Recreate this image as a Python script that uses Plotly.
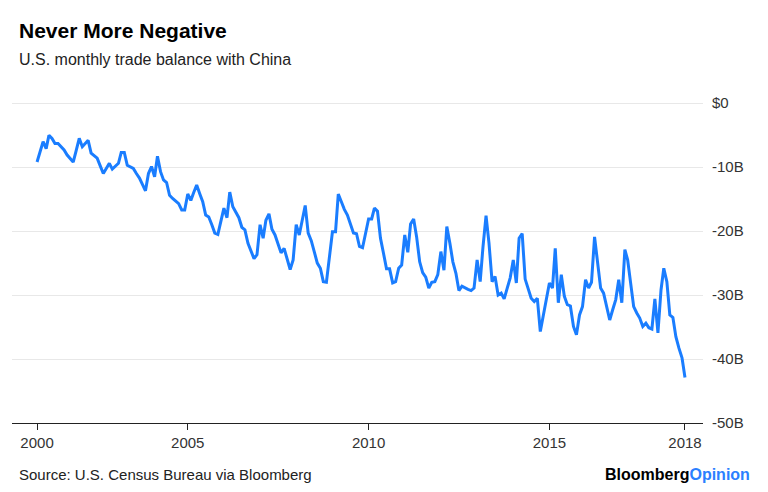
import pandas as pd
import plotly.graph_objects as go

# Monthly U.S. trade balance with China, billions of dollars (Nov 2000 - Oct 2018)
start_month = "2000-11-01"
balance = [
    -9.2, -7.6, -6.0, -7.1, -5.0, -5.5, -6.3, -6.3, -6.8, -7.3, -8.1, -8.6,
    -9.2, -7.4, -5.5, -6.8, -6.3, -5.8, -7.8, -8.2, -8.6, -9.8, -11.0, -10.2,
    -9.4, -10.3, -9.9, -9.4, -7.7, -7.7, -9.7, -10.0, -10.2, -11.0, -11.7, -12.7,
    -13.7, -11.0, -9.9, -11.5, -8.3, -10.7, -12.0, -12.4, -14.4, -14.9, -15.3, -15.7,
    -16.7, -16.7, -14.2, -15.2, -14.0, -12.8, -14.1, -15.4, -17.5, -17.8, -19.0, -20.3,
    -20.5, -18.5, -16.4, -17.9, -13.9, -16.2, -17.0, -17.9, -19.4, -19.8, -21.9, -23.1,
    -24.3, -23.7, -19.0, -21.1, -18.3, -17.3, -19.7, -20.6, -22.0, -23.4, -22.7, -24.4,
    -26.0, -24.5, -19.0, -20.6, -18.3, -16.0, -20.3, -21.5, -23.2, -25.0, -25.8, -27.9,
    -28.0, -24.0, -20.1, -20.1, -14.2, -15.4, -16.6, -17.5, -18.8, -20.3, -20.4, -22.4,
    -22.6, -20.3, -18.1, -18.1, -16.4, -16.9, -21.1, -23.5, -25.9, -25.9, -28.1, -27.9,
    -25.8, -25.3, -20.6, -23.3, -18.9, -18.1, -20.9, -24.8, -26.5, -27.2, -28.9, -28.0,
    -27.9, -26.8, -23.2, -26.1, -19.3, -21.9, -24.8, -26.6, -29.3, -28.6, -28.9, -29.1,
    -29.3, -28.9, -24.5, -27.9, -22.5, -17.6, -21.9, -27.9, -27.1, -30.0, -29.7, -30.6,
    -28.9, -27.3, -24.5, -28.1, -21.1, -20.4, -27.5, -28.9, -30.5, -31.0, -30.5, -35.7,
    -33.3, -30.7, -28.1, -28.9, -22.7, -31.2, -26.8, -30.2, -31.5, -31.7, -34.9, -36.2,
    -33.1, -31.8, -27.6, -28.9, -28.0, -20.9, -24.5, -28.9, -29.7, -31.8, -33.9, -32.3,
    -30.7, -27.6, -31.2, -22.9, -24.5, -28.2, -31.8, -32.8, -33.6, -34.9, -34.4, -35.1,
    -35.3, -30.6, -35.9, -29.2, -25.8, -27.9, -33.1, -33.5, -36.5, -38.3, -39.8, -42.9,
]
dates = pd.date_range(start_month, periods=len(balance), freq="MS")

x_tick_labels = ["2000", "2005", "2010", "2015", "2018"]
x_tick_dates = [dates[0], pd.Timestamp("2005-01-01"), pd.Timestamp("2010-01-01"),
                pd.Timestamp("2015-01-01"), dates[-1]]
y_tick_values = [0, -10, -20, -30, -40, -50]
y_tick_labels = ["$0", "-10B", "-20B", "-30B", "-40B", "-50B"]

FONT = "Liberation Sans, Arial, sans-serif"
LINE_BLUE = "#1a7dff"

# plot area in pixels
L, R, T, B = 12, 703, 100, 423


def px(xp):
    return (xp - L) / (R - L)


def py(yp):
    return (B - yp) / (B - T)


fig = go.Figure()
fig.add_trace(go.Scatter(
    x=dates, y=balance, mode="lines",
    line=dict(color=LINE_BLUE, width=3), hoverinfo="x+y", showlegend=False,
))

fig.update_layout(
    width=768, height=492,
    margin=dict(l=L, r=768 - R, t=T, b=492 - B),
    paper_bgcolor="white", plot_bgcolor="white",
    font=dict(family=FONT, color="#333333", size=15),
    xaxis=dict(
        type="date",
        range=["2000-02-22", "2019-04-01"],
        tickvals=x_tick_dates, ticktext=x_tick_labels,
        showgrid=False, zeroline=False,
        showline=True, linecolor="#222222", linewidth=1,
        ticks="outside", ticklen=6, tickcolor="#222222", tickwidth=1,
        tickfont=dict(size=15, color="#333333"),
    ),
    yaxis=dict(
        range=[-50, 0.5], side="right",
        tickvals=y_tick_values, ticktext=y_tick_labels,
        showgrid=True, gridcolor="#e8e8e8", gridwidth=1,
        zeroline=False, showline=False, ticks="",
        ticklabelstandoff=8,
        tickfont=dict(size=15, color="#333333"),
    ),
    annotations=[
        dict(text="<b>Never More Negative</b>", xref="paper", yref="paper",
             x=px(17), y=py(31), xanchor="left", yanchor="middle",
             showarrow=False, font=dict(size=21, color="#000000", family=FONT)),
        dict(text="U.S. monthly trade balance with China", xref="paper", yref="paper",
             x=px(17), y=py(59), xanchor="left", yanchor="middle",
             showarrow=False, font=dict(size=16, color="#222222", family=FONT)),
        dict(text="Source: U.S. Census Bureau via Bloomberg", xref="paper", yref="paper",
             x=px(17), y=py(474), xanchor="left", yanchor="middle",
             showarrow=False, font=dict(size=15, color="#222222", family=FONT)),
        dict(text="<b>Bloomberg</b><b><span style='color:#2b7fff'>Opinion</span></b>",
             xref="paper", yref="paper",
             x=px(752), y=py(474), xanchor="right", yanchor="middle",
             showarrow=False, font=dict(size=16, color="#000000", family=FONT)),
    ],
)

fig.write_html("out.html")
